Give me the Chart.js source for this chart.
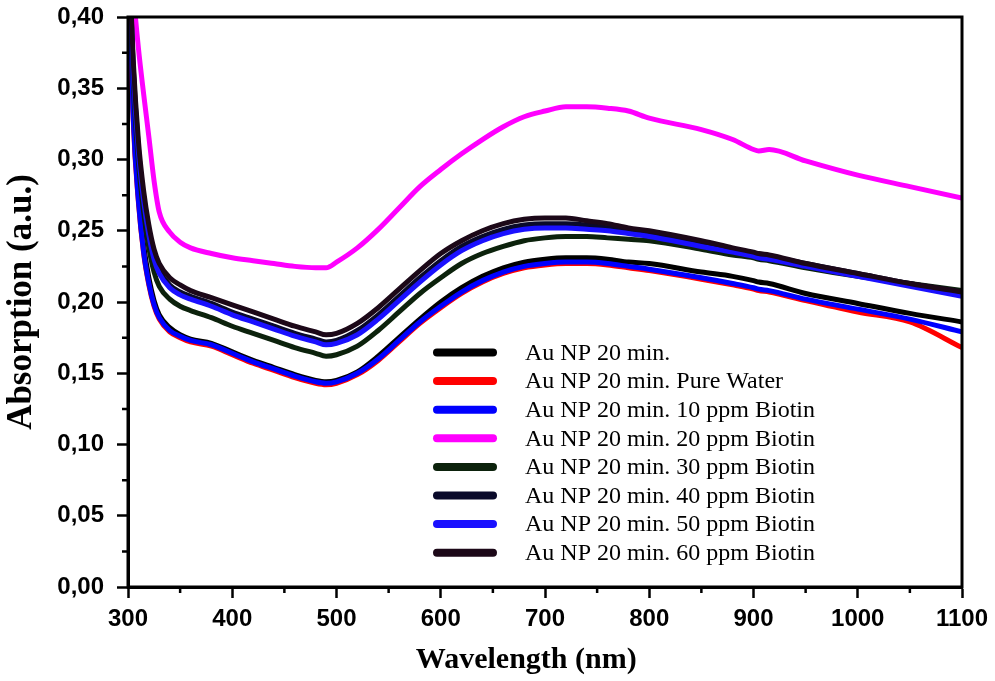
<!DOCTYPE html>
<html>
<head>
<meta charset="utf-8">
<script src="https://cdn.jsdelivr.net/npm/chart.js@4/dist/chart.umd.min.js"></script>
<style>
  html, body { margin: 0; padding: 0; background: #fff; }
  #wrap { width: 995px; height: 681px; position: relative; }
</style>
</head>
<body>
<div id="wrap"><canvas id="c" width="995" height="681"></canvas></div>
<script>
// Wavelength grid (nm)
const wavelengths = [300,305,310,315,320,325,330,340,350,360,380,400,420,440,460,480,490,500,520,540,560,580,600,620,640,660,680,700,720,740,760,780,800,850,880,900,905,915,950,1000,1050,1100];

const seriesLabels = [
  'Au NP 20 min.',
  'Au NP 20 min. Pure Water',
  'Au NP 20 min. 10 ppm Biotin',
  'Au NP 20 min. 20 ppm Biotin',
  'Au NP 20 min. 30 ppm Biotin',
  'Au NP 20 min. 40 ppm Biotin',
  'Au NP 20 min. 50 ppm Biotin',
  'Au NP 20 min. 60 ppm Biotin'
];

const auNP = [0.46,0.335,0.275,0.240,0.217,0.201,0.191,0.182,0.177,0.174,0.171,0.165,0.159,0.154,0.149,0.145,0.144,0.145,0.151,0.162,0.175,0.188,0.200,0.210,0.218,0.224,0.228,0.230,0.231,0.231,0.230,0.228,0.227,0.221,0.218,0.215,0.214,0.213,0.206,0.199,0.192,0.186];
const pureWater = [0.46,0.328,0.270,0.234,0.212,0.197,0.188,0.179,0.175,0.172,0.169,0.163,0.157,0.152,0.147,0.143,0.142,0.143,0.149,0.159,0.172,0.185,0.196,0.206,0.214,0.220,0.224,0.226,0.227,0.227,0.226,0.224,0.222,0.216,0.212,0.209,0.208,0.207,0.201,0.193,0.186,0.168];
const biotin10 = [0.46,0.330,0.271,0.235,0.213,0.198,0.189,0.180,0.176,0.173,0.170,0.164,0.158,0.153,0.148,0.144,0.143,0.144,0.150,0.160,0.173,0.186,0.197,0.207,0.215,0.221,0.225,0.227,0.228,0.228,0.227,0.225,0.223,0.217,0.213,0.210,0.209,0.208,0.202,0.195,0.188,0.179];
const biotin20 = [0.47,0.418,0.378,0.346,0.316,0.285,0.263,0.249,0.242,0.238,0.234,0.231,0.229,0.227,0.225,0.224,0.224,0.228,0.238,0.251,0.266,0.281,0.293,0.304,0.314,0.323,0.330,0.334,0.337,0.337,0.336,0.334,0.329,0.321,0.314,0.307,0.306,0.307,0.299,0.289,0.281,0.273];
const biotin30 = [0.46,0.355,0.298,0.263,0.238,0.221,0.211,0.202,0.197,0.194,0.189,0.183,0.178,0.173,0.168,0.164,0.162,0.163,0.169,0.180,0.193,0.206,0.217,0.227,0.234,0.239,0.243,0.245,0.246,0.246,0.245,0.244,0.243,0.237,0.233,0.231,0.230,0.229,0.224,0.218,0.213,0.208];
const biotin40 = [0.46,0.365,0.308,0.273,0.249,0.232,0.222,0.212,0.207,0.204,0.199,0.193,0.188,0.183,0.178,0.174,0.172,0.173,0.180,0.191,0.204,0.217,0.229,0.239,0.246,0.251,0.254,0.255,0.255,0.254,0.252,0.250,0.248,0.241,0.237,0.234,0.233,0.232,0.227,0.220,0.213,0.207];
const biotin50 = [0.46,0.362,0.305,0.271,0.247,0.230,0.220,0.210,0.205,0.202,0.197,0.191,0.186,0.181,0.176,0.172,0.170,0.171,0.177,0.188,0.201,0.214,0.226,0.236,0.243,0.248,0.251,0.252,0.252,0.251,0.250,0.248,0.246,0.239,0.235,0.232,0.231,0.230,0.225,0.218,0.211,0.204];
const biotin60 = [0.46,0.370,0.313,0.278,0.254,0.237,0.227,0.217,0.212,0.208,0.203,0.198,0.193,0.188,0.183,0.179,0.177,0.178,0.185,0.196,0.209,0.222,0.234,0.243,0.250,0.255,0.258,0.259,0.259,0.257,0.255,0.252,0.250,0.243,0.238,0.235,0.234,0.233,0.227,0.220,0.213,0.207];

const seriesValues = [auNP, pureWater, biotin10, biotin20, biotin30, biotin40, biotin50, biotin60];
const seriesColors = ['#000000','#ff0000','#0000ff','#ff00ff','#0c220c','#0a0a2a','#1a10ff','#1c0818'];

const xTicks = [300,400,500,600,700,800,900,1000,1100];
const yTicks = [0,0.05,0.10,0.15,0.20,0.25,0.30,0.35,0.40];

const datasets = seriesValues.map((vals, i) => ({
  label: seriesLabels[i],
  data: wavelengths.map((w, j) => ({x: w, y: vals[j]})),
  borderColor: seriesColors[i],
  backgroundColor: seriesColors[i],
  borderWidth: 5,
  pointRadius: 0,
  fill: false,
  cubicInterpolationMode: 'monotone',
  borderCapStyle: 'round',
  borderJoinStyle: 'round',
  order: seriesValues.length - i
}));

const framePlugin = {
  id: 'frame',
  afterDraw(chart) {
    const {ctx, chartArea: a, scales} = chart;
    ctx.save();
    // minor ticks
    ctx.strokeStyle = '#000';
    ctx.lineWidth = 2.5;
    ctx.beginPath();
    for (let v = 350; v < 1100; v += 100) {
      const px = scales.x.getPixelForValue(v);
      ctx.moveTo(px, a.bottom); ctx.lineTo(px, a.bottom + 6);
    }
    for (let k = 0; k < 8; k++) {
      const v = 0.025 + k * 0.05;
      const py = scales.y.getPixelForValue(v);
      ctx.moveTo(a.left, py); ctx.lineTo(a.left - 6, py);
    }
    ctx.stroke();
    // frame
    ctx.lineWidth = 3;
    ctx.strokeRect(a.left, a.top, a.right - a.left, a.bottom - a.top);
    // legend
    const lx0 = 437, lx1 = 493, tx = 525;
    const y0 = 352.5, dy = 28.6;
    ctx.font = '24px "Liberation Serif", "Times New Roman", serif';
    ctx.textBaseline = 'middle';
    ctx.textAlign = 'left';
    chart.data.datasets.forEach((ds, i) => {
      const y = y0 + i * dy;
      ctx.strokeStyle = ds.borderColor;
      ctx.lineWidth = 8;
      ctx.lineCap = 'round';
      ctx.beginPath(); ctx.moveTo(lx0, y); ctx.lineTo(lx1, y); ctx.stroke();
      ctx.fillStyle = '#000';
      ctx.fillText(ds.label, tx, y + 1);
    });
    ctx.restore();
  }
};

new Chart(document.getElementById('c'), {
  type: 'line',
  data: { datasets },
  options: {
    responsive: false,
    animation: false,
    layout: { padding: { top: 17, right: 33, left: 0, bottom: 0 } },
    plugins: { legend: { display: false }, tooltip: { enabled: false } },
    scales: {
      x: {
        type: 'linear',
        min: 300, max: 1100,
        afterFit(s) { s.height = 94; s.paddingLeft = 0; s.paddingRight = 0; },
        afterBuildTicks(s) { s.ticks = xTicks.map(v => ({value: v})); },
        ticks: {
          color: '#000',
          font: { family: '"Liberation Sans", Arial, sans-serif', size: 24, weight: 'bold' },
          padding: 7,
          maxRotation: 0,
          autoSkip: false,
          callback: v => String(v)
        },
        grid: { drawOnChartArea: false, drawTicks: true, tickLength: 11, tickWidth: 2.5, tickColor: '#000' },
        border: { display: true, color: '#000', width: 3 },
        title: {
          display: true,
          text: 'Wavelength (nm)\u00a0\u00a0\u00a0\u00a0\u00a0',
          color: '#000',
          font: { family: '"Liberation Serif", "Times New Roman", serif', size: 30, weight: 'bold' },
          padding: { top: 0, bottom: 3 }
        }
      },
      y: {
        type: 'linear',
        min: 0, max: 0.40,
        afterFit(s) { s.width = 128; s.paddingTop = 0; s.paddingBottom = 0; },
        afterBuildTicks(s) { s.ticks = yTicks.map(v => ({value: v})); },
        ticks: {
          color: '#000',
          font: { family: '"Liberation Sans", Arial, sans-serif', size: 24, weight: 'bold' },
          padding: 13,
          autoSkip: false,
          callback: v => v.toFixed(2).replace('.', ',')
        },
        grid: { drawOnChartArea: false, drawTicks: true, tickLength: 11, tickWidth: 2.5, tickColor: '#000' },
        border: { display: true, color: '#000', width: 3 },
        title: {
          display: true,
          text: 'Absorption (a.u.)',
          color: '#000',
          font: { family: '"Liberation Serif", "Times New Roman", serif', size: 35, weight: 'bold' },
          padding: { top: 1, bottom: 0 }
        }
      }
    }
  },
  plugins: [framePlugin]
});
</script>
</body>
</html>
